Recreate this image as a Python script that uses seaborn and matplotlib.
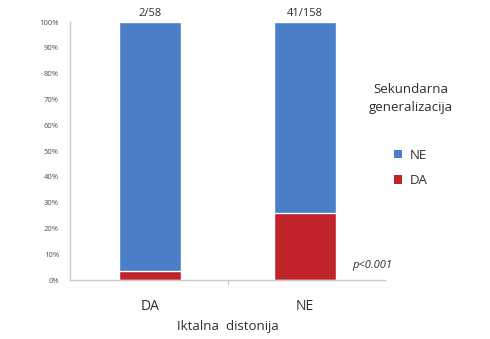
import matplotlib
matplotlib.use("Agg")
import matplotlib.pyplot as plt
import seaborn as sns
import pandas as pd
from matplotlib.ticker import PercentFormatter, MultipleLocator
from matplotlib.patches import Patch

categories = ["DA", "NE"]
da_counts = [2, 41]
totals = [58, 158]
count_labels = ["2/58", "41/158"]

df = pd.DataFrame({
    "group": categories,
    "total": [100.0, 100.0],
    "da_pct": [c / t * 100 for c, t in zip(da_counts, totals)],
})

sns.set_theme(style="white")
plt.rcParams["font.family"] = ["Open Sans", "DejaVu Sans"]

blue = "#4A7EC6"
red = "#C1232A"
axis_grey = "#C8C8C8"
text_grey = "#505050"
dark = "#2E2E2E"

fig = plt.figure(figsize=(4.9, 3.39), dpi=100)
ax = fig.add_axes([0.143, 0.174, 0.643, 0.761])

sns.barplot(data=df, x="group", y="total", color=blue, width=0.4,
            saturation=1, ax=ax, order=categories)
sns.barplot(data=df, x="group", y="da_pct", color=red, width=0.4,
            saturation=1, ax=ax, order=categories)

ax.set_ylim(0, 100)
ax.set_xlim(-0.52, 1.52)
ax.yaxis.set_major_locator(MultipleLocator(10))
ax.yaxis.set_major_formatter(PercentFormatter(decimals=0))

for side in ["top", "right"]:
    ax.spines[side].set_visible(False)
for side in ["left", "bottom"]:
    ax.spines[side].set_color(axis_grey)
    ax.spines[side].set_linewidth(1.0)

ax.tick_params(axis="y", which="major", labelsize=5.5, labelcolor=text_grey,
               color=axis_grey, length=3, width=0.8, direction="out", pad=5)
ax.tick_params(axis="x", labelsize=10, labelcolor=dark, length=0, pad=14)

ax.set_ylabel("")
ax.set_xlabel("Iktalna  distonija", fontsize=9.5, color=dark, labelpad=4)

# small separator tick on the category axis
ax.plot([0.5, 0.5], [0, -1.5], color=axis_grey, lw=0.8, clip_on=False)

for i, lab in enumerate(count_labels):
    ax.text(i, 101.3, lab, ha="center", va="bottom", fontsize=8,
            color=dark)

ax.text(1.31, 3.5, "p<0.001", ha="left", va="bottom", fontsize=8,
        style="italic", color=dark)

handles = [Patch(facecolor=blue, edgecolor="none", label="NE"),
           Patch(facecolor=red, edgecolor="none", label="DA")]
fig.text(0.838, 0.71, "Sekundarna\ngeneralizacija", ha="center", va="center",
         fontsize=9.5, color=dark, linespacing=1.45)
leg = fig.legend(handles=handles, loc="center left",
                 bbox_to_anchor=(0.78, 0.505), frameon=False, fontsize=9.5,
                 handlelength=0.6, handleheight=0.6, handletextpad=0.6,
                 labelspacing=0.95)
for t in leg.get_texts():
    t.set_color(dark)

fig.savefig("out.png", dpi=100, facecolor="white")
